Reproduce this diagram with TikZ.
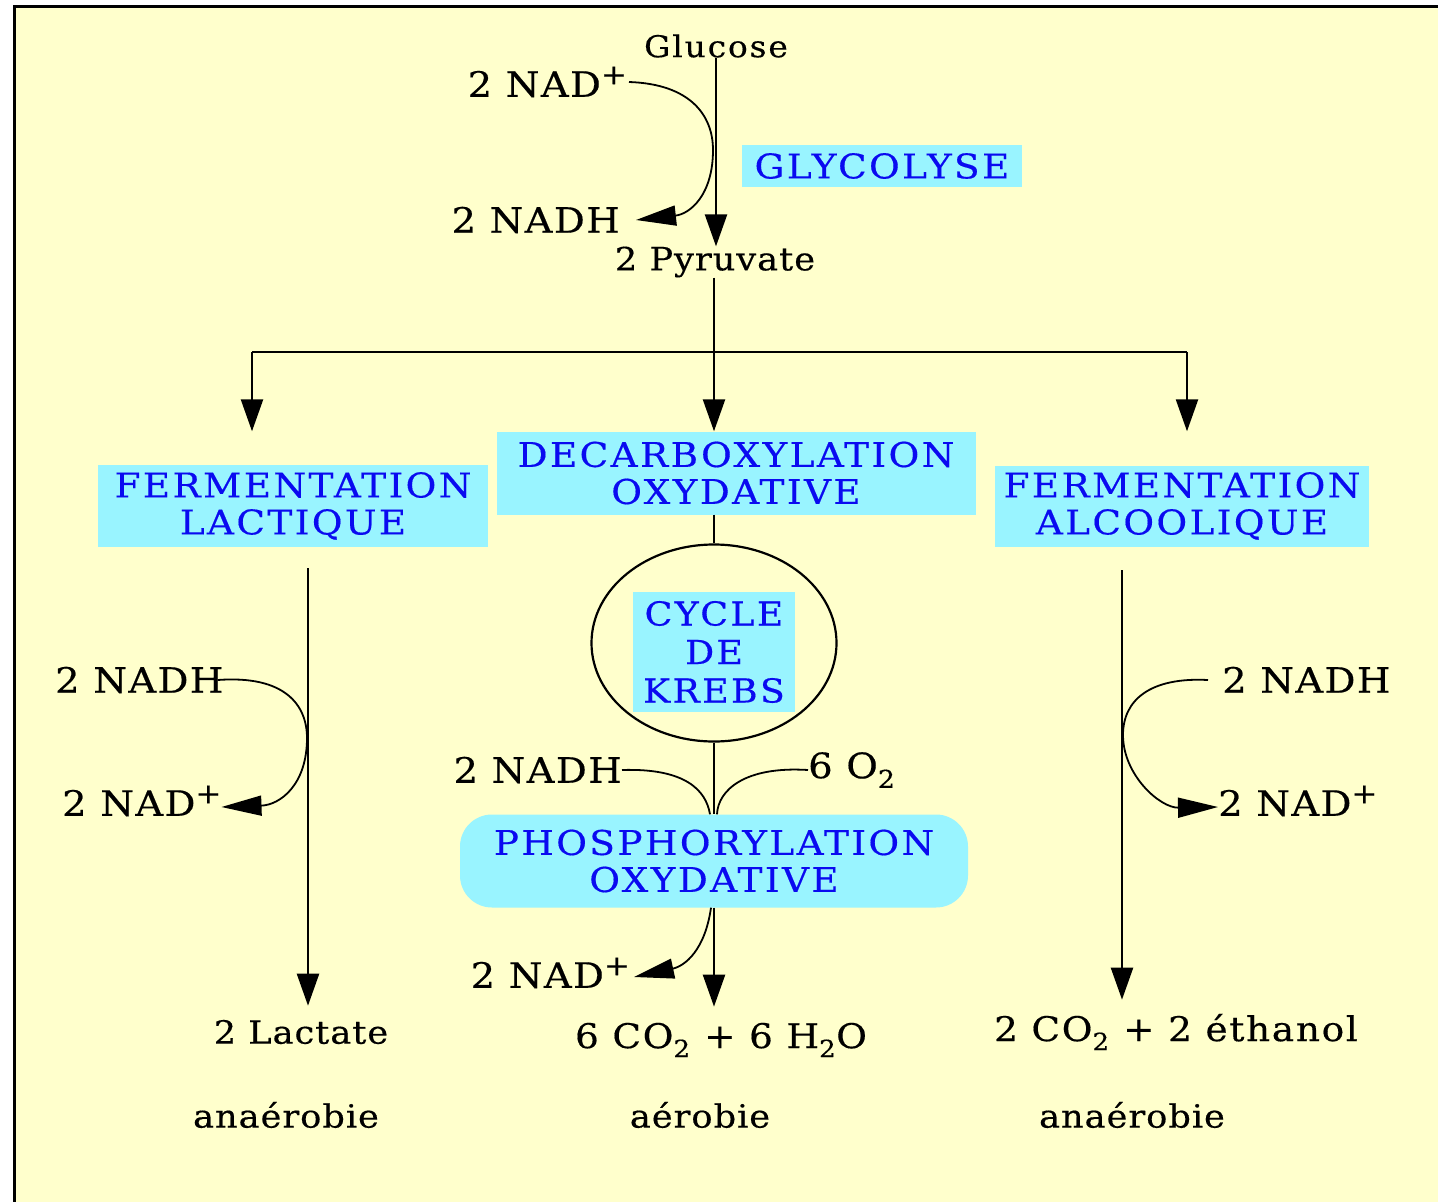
\documentclass[tikz,border=0pt]{standalone}
\usepackage{fontspec}
\setmainfont{DejaVu Serif}[FakeStretch=1.1, FakeBold=0.4, LetterSpace=3]
\usetikzlibrary{shapes.geometric,arrows.meta}
\definecolor{cream}{RGB}{255,255,204}
\definecolor{cyanbox}{RGB}{153,244,255}
\definecolor{bluetxt}{RGB}{10,10,240}
\newcommand\plusup{\raisebox{0.36em}{\fontsize{28}{28}\selectfont +}}
\begin{document}
\begin{tikzpicture}[x=1pt,y=-1pt,
  lbl/.style={font=\fontsize{32}{37}\selectfont, inner sep=0pt, text=black},
  nad/.style={font=\fontsize{35}{37}\selectfont\addfontfeature{LetterSpace=4}, inner sep=0pt, text=black},
  prodl/.style={font=\fontsize{34}{37}\selectfont\addfontfeature{LetterSpace=5}, inner sep=0pt, text=black},
  stage/.style={fill=cyanbox, text=bluetxt, font=\fontsize{34}{37}\selectfont\addfontfeature{LetterSpace=7}, align=center, inner sep=0pt},
  flow/.style={line width=2.4pt, -{Triangle[length=32pt,width=22pt]}},
  side/.style={line width=1.8pt, -{Triangle[length=40pt,width=20pt]}},
  plain/.style={line width=2.4pt}]
\useasboundingbox (0,0) rectangle (1438,1202);
\fill[white] (0,0) rectangle (1438,1202);
\draw[line width=3.5pt, fill=cream] (14.5,6.5) rectangle (1470,1240);

% top: glycolysis
\node[lbl, font=\fontsize{30}{34}\selectfont\addfontfeature{LetterSpace=6}] (glu) at (716,46) {Glucose};
\node[nad, anchor=east] (nadp1) at (627,82) {2 NAD\plusup};
\node[nad, anchor=east] (nadh1) at (620,220) {2 NADH};
\node[lbl] (pyr) at (715,262) {2 Pyruvate};
\node[stage, minimum width=280pt, minimum height=42pt] (gly) at (882,166) {GLYCOLYSE};
\draw[flow] (glu.south) -- (glu.south |- pyr.north);
\draw[side] ([xshift=2pt]nadp1.east) .. controls (690,84) and (713,115) .. (713,150) .. controls (713,195) and (690,214) .. ([xshift=16pt]nadh1.east);

% branching
\coordinate (j) at (714,352);
\coordinate (jl) at (252,352);
\coordinate (jr) at (1187,352);
\node[stage, minimum width=479pt, minimum height=83pt] (dec) at (736,473) {DECARBOXYLATION\\OXYDATIVE};
\node[stage, minimum width=390pt, minimum height=82pt] (fl) at (293,506) {FERMENTATION\\LACTIQUE};
\node[stage, minimum width=374pt, minimum height=81pt] (fa) at (1182,506) {FERMENTATION\\ALCOOLIQUE};
\draw[plain] (pyr.south -| j) -- (j);
\draw[plain] (jl) -- (jr);
\draw[flow] (jl) -- (jl |- dec.north);
\draw[flow] (j) -- (j |- dec.north);
\draw[flow] (jr) -- (jr |- dec.north);

% centre: Krebs and oxidative phosphorylation
\node[draw, ellipse, line width=2.2pt, minimum width=245pt, minimum height=197pt, inner sep=0pt] (cyc) at (714,643) {};
\node[stage, minimum width=162pt, minimum height=120pt, font=\fontsize{33}{38.5}\selectfont\addfontfeature{LetterSpace=7}] (krebs) at (714,652) {CYCLE\\DE\\KREBS};
\draw[plain] (dec.south -| cyc.north) -- (cyc.north);
\node[stage, rounded corners=32pt, minimum width=508pt, minimum height=93pt] (phos) at (714,861) {PHOSPHORYLATION\\OXYDATIVE};
\draw[plain] (cyc.south) -- (phos.north);
\node[nad, anchor=east] (nadh2) at (622,770) {2 NADH};
\node[nad, anchor=west] (o2) at (808,770) {6 O\textsubscript{2}};
\draw[line width=1.8pt] (nadh2.east) .. controls (685,768) and (706,790) .. ([xshift=-4pt]phos.north);
\draw[line width=1.8pt] (o2.west) .. controls (745,766) and (718,790) .. ([xshift=3pt]phos.north);
\node[prodl] (prod) at (721,1040) {6 CO\textsubscript{2} + 6 H\textsubscript{2}O};
\node[nad, anchor=east] (nadp2) at (630,973) {2 NAD\plusup};
\draw[flow, shorten >=16pt] (phos.south) -- (phos.south |- prod.north);
\draw[side] ([xshift=-3pt]phos.south) .. controls (705,950) and (685,966) .. ([xshift=4pt,yshift=-4pt]nadp2.east);
\node[lbl] (aer) at (700,1115) {aérobie};

% left: lactic fermentation
\coordinate (ls) at (308,568);
\node[lbl] (lac) at (301,1032) {2 Lactate};
\node[lbl] (an1) at (286,1115) {anaérobie};
\draw[flow, shorten >=14pt] (ls) -- (ls |- lac.north);
\node[nad, anchor=west] (nadh3) at (55,680) {2 NADH};
\node[nad, anchor=west] (nadp3) at (62,801) {2 NAD\plusup};
\draw[side] ([xshift=-6pt]nadh3.east) .. controls (285,675) and (307,705) .. (307,738) .. controls (307,785) and (280,805) .. ([yshift=-6pt]nadp3.east);

% right: alcoholic fermentation
\coordinate (rs) at (1122,570);
\node[prodl] (eth) at (1176,1032) {2 CO\textsubscript{2} + 2 éthanol};
\node[lbl] (an2) at (1132,1115) {anaérobie};
\draw[flow, shorten >=14pt] (rs) -- (rs |- eth.north);
\node[nad, anchor=west] (nadh4) at (1222,680) {2 NADH};
\node[nad, anchor=west] (nadp4) at (1218,801) {2 NAD\plusup};
\draw[side] ([xshift=-14pt]nadh4.west) .. controls (1150,677) and (1123,700) .. (1123,735) .. controls (1123,775) and (1160,808) .. ([yshift=-6pt]nadp4.west);
\end{tikzpicture}
\end{document}
